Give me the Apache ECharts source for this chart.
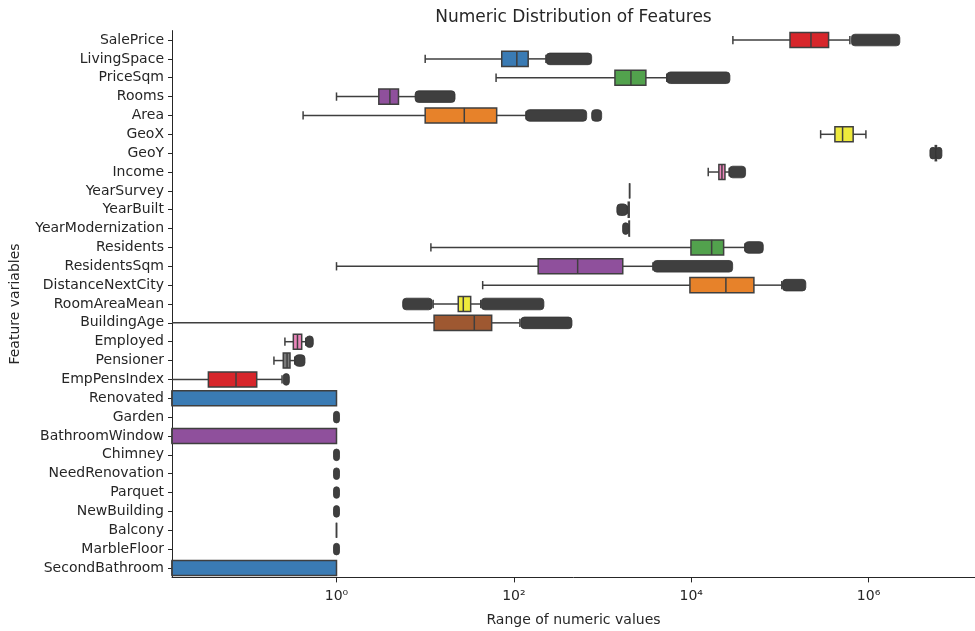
<!DOCTYPE html>
<html>
<head>
<meta charset="utf-8">
<title>Numeric Distribution of Features</title>
<script src="https://cdn.jsdelivr.net/npm/echarts@6/dist/echarts.min.js"></script>
<style>
  html, body { margin: 0; padding: 0; background: #fff; }
  #chart { width: 975px; height: 631px; }
</style>
</head>
<body>
<div id="chart"></div>
<script>
const categories = [
  'SalePrice', 'LivingSpace', 'PriceSqm', 'Rooms', 'Area', 'GeoX', 'GeoY', 'Income',
  'YearSurvey', 'YearBuilt', 'YearModernization', 'Residents', 'ResidentsSqm',
  'DistanceNextCity', 'RoomAreaMean', 'BuildingAge', 'Employed', 'Pensioner',
  'EmpPensIndex', 'Renovated', 'Garden', 'BathroomWindow', 'Chimney', 'NeedRenovation',
  'Parquet', 'NewBuilding', 'Balcony', 'MarbleFloor', 'SecondBathroom'
]

// [lower whisker, Q1, median, Q3, upper whisker]
const boxStats = [
  [29500, 130000, 224000, 354000, 615000],
  [10, 73, 108, 145, 230],
  [63, 1380, 2090, 3080, 5300],
  [1, 3, 4, 5, 8],
  [0.42, 10, 27.6, 64, 137],
  [288000, 417000, 509000, 670000, 933000],
  [5500000, 5650000, 5740000, 5830000, 5950000],
  [15550, 20500, 22200, 24000, 26800],
  [2019, 2019, 2019, 2019, 2019],
  [1900, 1950, 1975, 1995, 2021],
  [1965, 1990, 2000, 2010, 2021],
  [11.6, 9930, 17000, 23200, 40300],
  [1, 188, 524, 1690, 3700],
  [44.5, 9670, 24600, 50900, 105000],
  [12.3, 23.6, 26.9, 32.6, 42.3],
  [0, 12.6, 35.8, 56.2, 117],
  [0.262, 0.326, 0.363, 0.405, 0.45],
  [0.197, 0.251, 0.277, 0.299, 0.338],
  [0, 0.0359, 0.0736, 0.126, 0.243],
  [0, 0, 0, 1, 1],
  [0, 0, 0, 0, 0],
  [0, 0, 0, 1, 1],
  [0, 0, 0, 0, 0],
  [0, 0, 0, 0, 0],
  [0, 0, 0, 0, 0],
  [0, 0, 0, 0, 0],
  [1, 1, 1, 1, 1],
  [0, 0, 0, 0, 0],
  [0, 0, 0, 1, 1]
]

// dense runs of outliers (they overlap into one dark band): [feature, from, to]
const outlierRuns = [
  ['SalePrice', 640000, 2250000],
  ['LivingSpace', 232, 754],
  ['PriceSqm', 5320, 27300],
  ['Rooms', 7.7, 21.7],
  ['Area', 137, 662],
  ['Area', 754, 977],
  ['GeoY', 5180000, 5450000],
  ['GeoY', 6050000, 6370000],
  ['Income', 26800, 41000],
  ['YearBuilt', 1450, 1895],
  ['YearModernization', 1690, 1960],
  ['Residents', 40300, 64900],
  ['ResidentsSqm', 3730, 29300],
  ['DistanceNextCity', 107000, 196000],
  ['RoomAreaMean', 5.57, 12.0],
  ['RoomAreaMean', 43, 218],
  ['BuildingAge', 120, 452],
  ['Employed', 0.453, 0.547],
  ['Pensioner', 0.34, 0.441],
  ['EmpPensIndex', 0.25, 0.294],
  ['Garden', 1, 1],
  ['Chimney', 1, 1],
  ['NeedRenovation', 1, 1],
  ['Parquet', 1, 1],
  ['NewBuilding', 1, 1],
  ['MarbleFloor', 1, 1]
]

const xTickValues = [1, 100, 10000, 1000000]
const xTickLabels = ['10⁰', '10²', '10⁴', '10⁶']

const palette = ['#d7262b', '#3a7bb4', '#52a24d', '#8f509c', '#e7822a', '#eeea3c', '#9e5831', '#ea86bb', '#7a7a7a']
const edge = '#3f3f3f'
const textColor = '#262626'
const font = 'DejaVu Sans'

// log10 axis extent
const xMin = -1.855
const xMax = 7.2
const lg = v => (v > 0 ? Math.log10(v) : xMin)

const chart = echarts.init(document.getElementById('chart'))

function renderBox(params, api) {
  const i = api.value(0)
  const raw = boxStats[i]
  if (raw[3] <= 0) return
  const band = api.size([0, 1])[1]
  const h = band * 0.8
  const capH = h * 0.55
  const cy = api.coord([0, i])[1]
  const px = d => api.coord([api.value(d), i])[0]
  const lo = px(1)
  const q1 = px(2)
  const med = px(3)
  const q3 = px(4)
  const hi = px(5)
  const line = { stroke: edge, lineWidth: 1.5 }
  const children = []
  if (q1 - lo > 0.5) {
    children.push({ type: 'line', shape: { x1: lo, y1: cy, x2: q1, y2: cy }, style: line })
    if (raw[0] > 0) children.push({ type: 'line', shape: { x1: lo, y1: cy - capH / 2, x2: lo, y2: cy + capH / 2 }, style: line })
  }
  if (hi - q3 > 0.5) {
    children.push({ type: 'line', shape: { x1: q3, y1: cy, x2: hi, y2: cy }, style: line })
    children.push({ type: 'line', shape: { x1: hi, y1: cy - capH / 2, x2: hi, y2: cy + capH / 2 }, style: line })
  }
  children.push({
    type: 'rect',
    shape: { x: q1, y: cy - h / 2, width: q3 - q1, height: h },
    style: { fill: palette[i % palette.length], stroke: edge, lineWidth: 1.5 }
  })
  children.push({ type: 'line', shape: { x1: med, y1: cy - h / 2, x2: med, y2: cy + h / 2 }, style: line })
  return { type: 'group', children }
}

function renderOutliers(params, api) {
  const i = api.value(0)
  const cy = api.coord([0, i])[1]
  let a = api.coord([api.value(1), i])[0]
  let b = api.coord([api.value(2), i])[0]
  if (b - a < 6) {
    const c = (a + b) / 2
    a = c - 3
    b = c + 3
  }
  const hh = 5.8
  return {
    type: 'rect',
    shape: { x: a, y: cy - hh, width: b - a, height: hh * 2, r: 3.5 },
    style: { fill: edge, stroke: '#333', lineWidth: 0.8 }
  }
}

chart.setOption({
  animation: false,
  textStyle: { fontFamily: font },
  title: {
    text: 'Numeric Distribution of Features',
    left: 573.5,
    top: 9,
    padding: 0,
    textAlign: 'center',
    textStyle: { fontFamily: font, fontSize: 17, fontWeight: 'normal', color: textColor }
  },
  grid: {
    left: 172,
    right: 0,
    top: 30.6,
    bottom: 53.6,
    containLabel: false,
    outerBoundsMode: 'none'
  },
  xAxis: {
    type: 'value',
    min: xMin,
    max: xMax,
    name: 'Range of numeric values',
    nameLocation: 'middle',
    nameGap: 36,
    nameTextStyle: { fontFamily: font, fontSize: 14, color: textColor },
    splitLine: { show: false },
    axisLine: { show: true, onZero: false, lineStyle: { color: textColor, width: 1 } },
    axisTick: {
      show: true,
      length: 5,
      customValues: xTickValues.map(v => Math.log10(v)),
      lineStyle: { color: textColor, width: 1 }
    },
    axisLabel: {
      customValues: xTickValues.map(v => Math.log10(v)),
      formatter: v => xTickLabels[xTickValues.findIndex(t => Math.abs(Math.log10(t) - v) < 1e-6)],
      fontFamily: font,
      fontSize: 14,
      color: textColor,
      margin: 12
    }
  },
  yAxis: {
    type: 'category',
    data: categories,
    inverse: true,
    name: 'Feature variables',
    nameLocation: 'middle',
    nameRotate: 90,
    nameGap: 150,
    nameTextStyle: { fontFamily: font, fontSize: 14, color: textColor },
    axisLine: { show: true, onZero: false, lineStyle: { color: textColor, width: 1 } },
    axisTick: { show: true, alignWithLabel: true, length: 4, lineStyle: { color: textColor, width: 1 } },
    axisLabel: { fontFamily: font, fontSize: 14, color: textColor, margin: 8, interval: 0 },
    splitLine: { show: false }
  },
  series: [
    {
      type: 'custom',
      name: 'boxes',
      renderItem: renderBox,
      encode: { x: [1, 2, 3, 4, 5], y: 0 },
      data: boxStats.map((s, i) => [i].concat(s.map(lg)))
    },
    {
      type: 'custom',
      name: 'outliers',
      renderItem: renderOutliers,
      encode: { x: [1, 2], y: 0 },
      data: outlierRuns.map(r => [categories.indexOf(r[0]), lg(r[1]), lg(r[2])])
    }
  ]
})
</script>
</body>
</html>
